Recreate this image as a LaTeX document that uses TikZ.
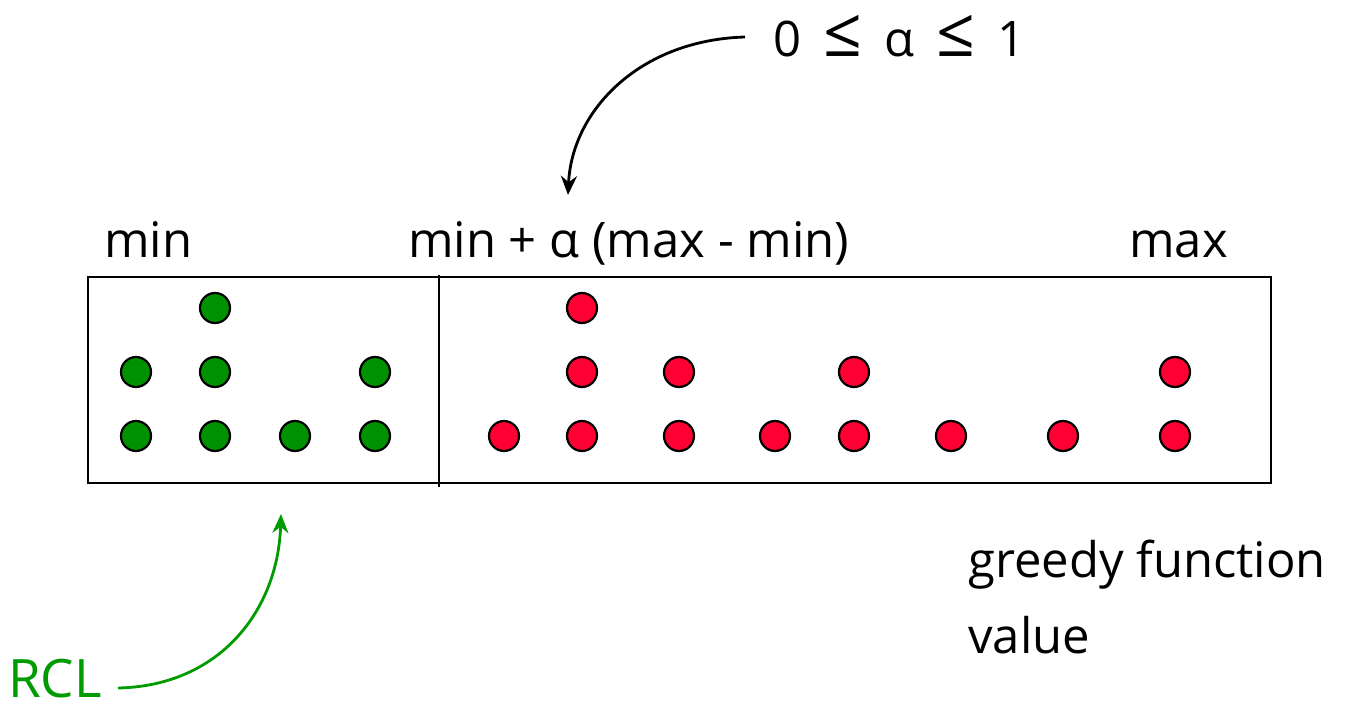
\documentclass[tikz,border=0pt]{standalone}
\usepackage{fontspec}
\setmainfont{Open Sans}
\usetikzlibrary{arrows.meta}
\definecolor{dgreen}{RGB}{0,145,0}
\definecolor{agreen}{RGB}{0,155,0}
\definecolor{dred}{RGB}{255,0,51}
\newcommand{\gp}{\hspace{0.45em}}
\newcommand{\bigle}{{\fontsize{68}{68}\selectfont ≤}}
\begin{document}
\begin{tikzpicture}[x=1pt,y=-1pt,
  lbl/.style={inner sep=0pt,anchor=base west,font=\fontsize{49}{58}\selectfont},
  gdot/.style={circle,draw=black,line width=2.2pt,fill=dgreen,minimum size=30pt,inner sep=0pt},
  rdot/.style={circle,draw=black,line width=2.2pt,fill=dred,minimum size=30pt,inner sep=0pt},
  frame/.style={draw=black,line width=2.8pt},
  arr/.style={line width=2.8pt,-{Stealth[length=19pt,width=16pt]}}]
\useasboundingbox (0,0) rectangle (1351,711);
% frame
\coordinate (bl) at (88,483);
\coordinate (tr) at (1271,277);
\draw[frame] (bl) rectangle (tr);
\coordinate (dtop) at (439,275);
\coordinate (dbot) at (439,487);
\draw[frame] (dtop) -- (dbot);
% labels
\node[lbl] (tmin) at (104,258) {min};
\node[lbl] (tmid) at (408,258) {min + α (max - min)};
\node[lbl] (tmax) at (1129,258) {max};
\node[lbl] (talpha) at (773,57) {0\gp\bigle\gp α\gp\bigle\gp 1};
\node[lbl] (tg1) at (968,577) {greedy function};
\node[lbl] (tg2) at (968,653) {value};
\node[lbl,text=agreen,font=\fontsize{53}{58}\selectfont] (trcl) at (8,697) {RCL};
% green dots
\node[gdot] (g1) at (215,308) {};
\node[gdot] (g2) at (136,372) {};
\node[gdot] (g3) at (215,372) {};
\node[gdot] (g4) at (375,372) {};
\node[gdot] (g5) at (136,436) {};
\node[gdot] (g6) at (215,436) {};
\node[gdot] (g7) at (295,436) {};
\node[gdot] (g8) at (375,436) {};
% red dots
\node[rdot] (r1) at (582,308) {};
\node[rdot] (r2) at (582,372) {};
\node[rdot] (r3) at (679,372) {};
\node[rdot] (r4) at (854,372) {};
\node[rdot] (r5) at (1175,372) {};
\node[rdot] (r6) at (504,436) {};
\node[rdot] (r7) at (582,436) {};
\node[rdot] (r8) at (679,436) {};
\node[rdot] (r9) at (775,436) {};
\node[rdot] (r10) at (854,436) {};
\node[rdot] (r11) at (951,436) {};
\node[rdot] (r12) at (1063,436) {};
\node[rdot] (r13) at (1175,436) {};
% arrows
\coordinate (atip) at (568,195);
\coordinate (astart) at (745,37);
\draw[arr] (astart) .. controls (640,40) and (572,110) .. (atip);
\coordinate (gtip) at (281,514);
\coordinate (gstart) at (118,688);
\draw[arr,draw=agreen] (gstart) .. controls (220,686) and (278,610) .. (gtip);
\end{tikzpicture}
\end{document}
